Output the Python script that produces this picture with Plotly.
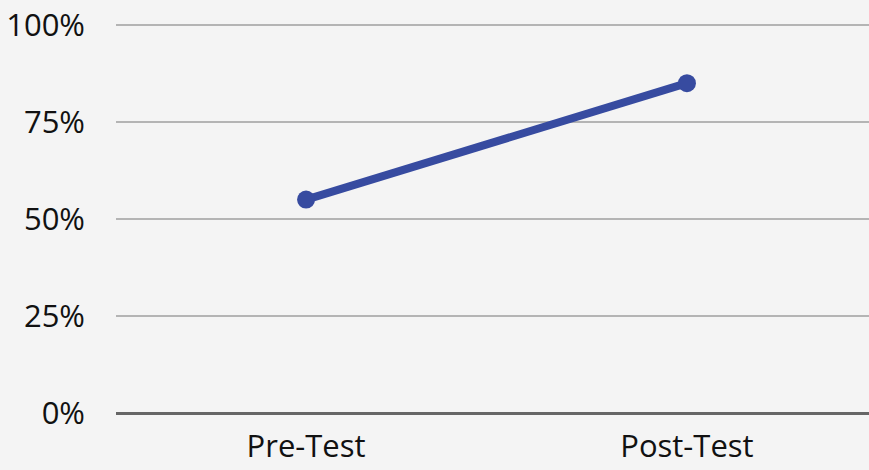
import plotly.graph_objects as go

categories = ["Pre-Test", "Post-Test"]
scores = [55, 85]
y_ticks = [0, 25, 50, 75, 100]
y_tick_labels = ["0%", "25%", "50%", "75%", "100%"]

fig = go.Figure()
fig.add_trace(go.Scatter(
    x=categories, y=scores, mode="lines+markers",
    line=dict(color="#374ba0", width=8),
    marker=dict(color="#374ba0", size=18),
    hoverinfo="skip", showlegend=False,
))

fig.update_layout(
    width=869, height=470,
    margin=dict(l=116, r=0, t=22, b=57),
    paper_bgcolor="#f4f4f4", plot_bgcolor="#f4f4f4",
    font=dict(family="Open Sans, sans-serif", size=31, color="#111111"),
    xaxis=dict(
        type="category", range=[-0.499, 1.478], automargin=False,
        showgrid=False, zeroline=False, showline=False,
        ticks="", ticklabelstandoff=12,
        tickfont=dict(size=31),
    ),
    yaxis=dict(
        range=[0, 100.77], tickvals=y_ticks, ticktext=y_tick_labels,
        automargin=False,
        showgrid=True, gridcolor="#b4b4b4", gridwidth=2,
        zeroline=True, zerolinecolor="#666666", zerolinewidth=3,
        showline=False, ticks="", ticklabelstandoff=30,
    ),
)

fig.write_html(
    "out.html",
    config={"displayModeBar": False},
    post_script="document.body.style.margin='0';document.body.style.background='#f4f4f4';",
)
